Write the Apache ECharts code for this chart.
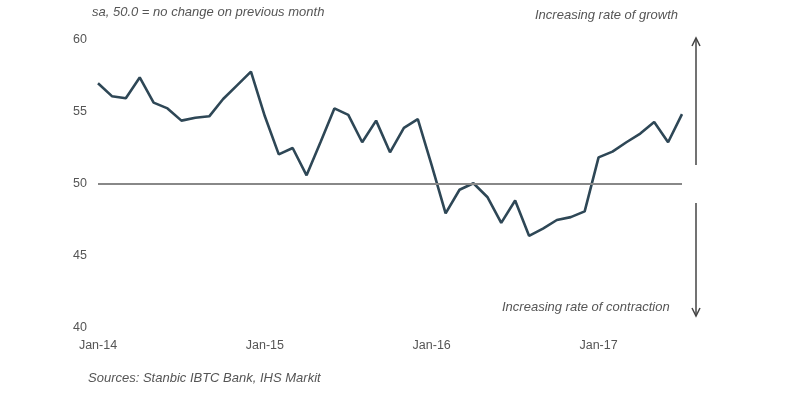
<!DOCTYPE html>
<html>
<head>
<meta charset="utf-8">
<script src="https://cdn.jsdelivr.net/npm/echarts@6/dist/echarts.min.js"></script>
<style>
html,body{margin:0;padding:0;background:#fff;}
#c{width:787px;height:399px;}
</style>
</head>
<body>
<div id="c"></div>
<script>
var months = [
  "Jan-14","Feb-14","Mar-14","Apr-14","May-14","Jun-14","Jul-14","Aug-14","Sep-14","Oct-14","Nov-14","Dec-14",
  "Jan-15","Feb-15","Mar-15","Apr-15","May-15","Jun-15","Jul-15","Aug-15","Sep-15","Oct-15","Nov-15","Dec-15",
  "Jan-16","Feb-16","Mar-16","Apr-16","May-16","Jun-16","Jul-16","Aug-16","Sep-16","Oct-16","Nov-16","Dec-16",
  "Jan-17","Feb-17","Mar-17","Apr-17","May-17","Jun-17","Jul-17"
];
var pmi = [
  57.0, 56.1, 55.95, 57.4, 55.65, 55.25, 54.4, 54.6, 54.7, 55.9, 56.85, 57.8,
  54.7, 52.06, 52.5, 50.6, 52.9, 55.25, 54.8, 52.9, 54.4, 52.2, 53.9, 54.5,
  51.3, 47.96, 49.6, 50.05, 49.1, 47.3, 48.85, 46.4, 46.9, 47.5, 47.7, 48.1,
  51.85, 52.25, 52.9, 53.5, 54.3, 52.9, 54.85
];
var yTicks = { min: 40, max: 60, interval: 5 };
var noChangeLevel = 50;
var titleText = "sa, 50.0 = no change on previous month";
var growthText = "Increasing rate of growth";
var contractionText = "Increasing rate of contraction";
var sourceText = "Sources: Stanbic IBTC Bank, IHS Markit";

var chart = echarts.init(document.getElementById('c'), null, {renderer: 'canvas'});
var font = "'Liberation Sans', Arial, sans-serif";
var arrowX = 696;
var option = {
  animation: false,
  backgroundColor: '#fff',
  textStyle: { fontFamily: font },
  grid: { left: 98, right: 105, top: 40, bottom: 71 },
  xAxis: {
    type: 'category',
    data: months,
    boundaryGap: false,
    axisLine: { show: false },
    axisTick: { show: false },
    splitLine: { show: false },
    axisLabel: { interval: 11, color: '#555', fontSize: 12.5, margin: 11, fontFamily: font }
  },
  yAxis: {
    type: 'value',
    min: yTicks.min, max: yTicks.max, interval: yTicks.interval,
    axisLine: { show: false },
    axisTick: { show: false },
    splitLine: { show: false },
    axisLabel: { color: '#555', fontSize: 12.5, margin: 11, fontFamily: font }
  },
  series: [{
    type: 'line',
    data: pmi,
    symbol: 'none',
    lineStyle: { color: '#2e4756', width: 2.6 },
    markLine: {
      silent: true,
      symbol: ['none', 'none'],
      label: { show: false },
      lineStyle: { color: '#888', width: 2.2, type: 'solid' },
      data: [{ yAxis: noChangeLevel }]
    },
    z: 3
  }],
  graphic: [
    { type: 'text', left: 92, top: 6, style: { text: titleText, fill: '#555', font: 'italic 13px ' + font } },
    { type: 'text', left: 535, top: 9, style: { text: growthText, fill: '#555', font: 'italic 13px ' + font } },
    { type: 'text', left: 502, top: 301, style: { text: contractionText, fill: '#555', font: 'italic 13px ' + font } },
    { type: 'text', left: 88, top: 372, style: { text: sourceText, fill: '#555', font: 'italic 13px ' + font } },
    { type: 'line', shape: { x1: arrowX, y1: 39, x2: arrowX, y2: 165 }, style: { stroke: '#444', lineWidth: 1.5 } },
    { type: 'polyline', shape: { points: [[arrowX - 4, 46], [arrowX, 38], [arrowX + 4, 46]] }, style: { stroke: '#444', lineWidth: 1.5, fill: null } },
    { type: 'line', shape: { x1: arrowX, y1: 203, x2: arrowX, y2: 316 }, style: { stroke: '#444', lineWidth: 1.5 } },
    { type: 'polyline', shape: { points: [[arrowX - 4, 308], [arrowX, 316], [arrowX + 4, 308]] }, style: { stroke: '#444', lineWidth: 1.5, fill: null } }
  ]
};
chart.setOption(option);
</script>
</body>
</html>
